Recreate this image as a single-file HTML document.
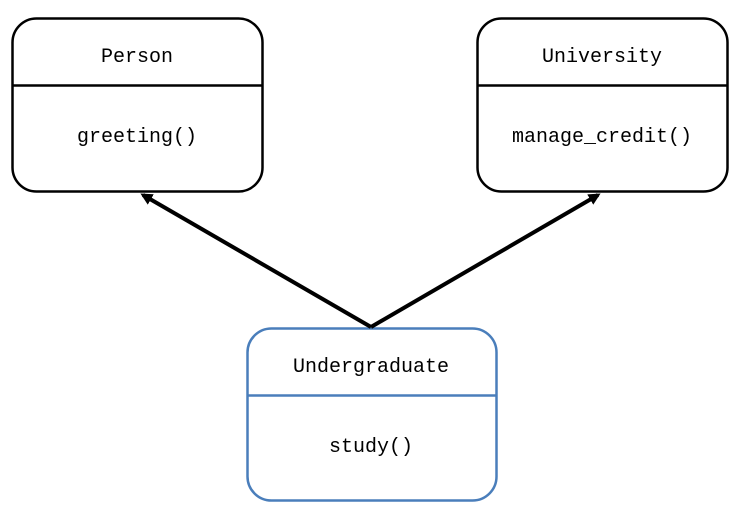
<!DOCTYPE html>
<html><head><meta charset="utf-8"><style>
html,body{margin:0;padding:0;background:#fff;}
svg text{font-family:"Liberation Mono","NanumGothic",monospace;font-size:20px;fill:#000;}
</style></head><body>
<svg width="742" height="517" viewBox="0 0 742 517" xmlns="http://www.w3.org/2000/svg">
<defs>
<marker id="a" markerWidth="12" markerHeight="12" refX="9" refY="6" orient="auto" markerUnits="userSpaceOnUse">
<path d="M0,0 L12,6 L0,12 Z" fill="#000"/>
</marker>
</defs>
<rect x="12.5" y="18.5" width="250" height="173" rx="24" fill="#fff" stroke="#000" stroke-width="2.5"/>
<line x1="12" y1="85.5" x2="263" y2="85.5" stroke="#000" stroke-width="2.5"/>
<text x="137" y="62" text-anchor="middle">Person</text>
<text x="137" y="142" text-anchor="middle">greeting()</text>
<rect x="477.5" y="18.5" width="250" height="173" rx="24" fill="#fff" stroke="#000" stroke-width="2.5"/>
<line x1="477" y1="85.5" x2="728" y2="85.5" stroke="#000" stroke-width="2.5"/>
<text x="602" y="62" text-anchor="middle">University</text>
<text x="602" y="142" text-anchor="middle">manage_credit()</text>
<rect x="247.5" y="328.5" width="249" height="172" rx="24" fill="#fff" stroke="#4a7ebb" stroke-width="2.5"/>
<line x1="247" y1="395.5" x2="497" y2="395.5" stroke="#4a7ebb" stroke-width="2.5"/>
<text x="371" y="372" text-anchor="middle">Undergraduate</text>
<text x="371" y="452" text-anchor="middle">study()</text>
<line x1="371" y1="327" x2="143" y2="195" stroke="#000" stroke-width="4" marker-end="url(#a)"/>
<line x1="371" y1="327" x2="598" y2="195" stroke="#000" stroke-width="4" marker-end="url(#a)"/>
</svg>
</body></html>
